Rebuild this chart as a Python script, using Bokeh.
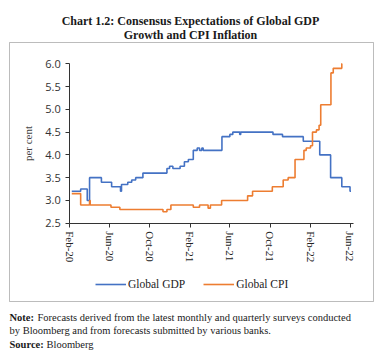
import pandas as pd
from bokeh.plotting import figure
from bokeh.models import (Range1d, FixedTicker, DatetimeTickFormatter, Label,
                          BoxAnnotation, Legend, LegendItem, PrintfTickFormatter)
from bokeh.embed import file_html
from bokeh.resources import INLINE

# ---------------- data ----------------
gdp_dates = ["2020-02-07", "2020-03-05", "2020-03-25", "2020-04-01", "2020-05-07",
             "2020-06-07", "2020-07-04", "2020-07-07", "2020-07-26", "2020-08-07",
             "2020-08-19", "2020-09-10", "2020-11-22", "2020-11-30", "2020-12-10",
             "2021-01-01", "2021-01-14", "2021-01-26", "2021-02-10", "2021-02-22",
             "2021-03-01", "2021-03-08", "2021-03-12", "2021-05-08", "2021-06-01",
             "2021-06-10", "2021-07-01", "2021-07-04", "2021-10-10", "2021-11-08",
             "2022-01-10", "2022-03-01", "2022-04-03", "2022-05-07", "2022-06-01",
             "2022-06-04"]
gdp_values = [3.2, 3.25, 3.0, 3.5, 3.4,
              3.3, 3.2, 3.35, 3.4, 3.45,
              3.5, 3.6, 3.7, 3.75, 3.7,
              3.75, 3.85, 3.9, 4.1, 4.15,
              4.1, 4.15, 4.1, 4.4, 4.45,
              4.5, 4.45, 4.5, 4.45, 4.4,
              4.3, 4.0, 3.5, 3.3, 3.2,
              3.2]

cpi_dates = ["2020-02-07", "2020-03-05", "2020-04-01", "2020-04-03", "2020-06-05",
             "2020-07-02", "2020-11-10", "2020-11-22", "2020-12-04", "2021-02-10",
             "2021-03-01", "2021-03-27", "2021-04-03", "2021-05-07", "2021-07-25",
             "2021-08-09", "2021-10-08", "2021-11-10", "2021-11-25", "2021-12-16",
             "2022-01-12", "2022-01-19", "2022-02-01", "2022-02-07", "2022-02-19",
             "2022-02-27", "2022-03-04", "2022-04-04", "2022-04-11", "2022-05-07",
             "2022-05-08"]
cpi_values = [3.15, 2.9, 3.0, 2.9, 2.85,
              2.8, 2.75, 2.8, 2.9, 2.85,
              2.9, 2.83, 2.9, 3.0, 3.1,
              3.2, 3.3, 3.45, 3.5, 3.9,
              4.1, 4.15, 4.2, 4.5, 4.55,
              4.65, 5.1, 5.8, 5.9, 6.0,
              6.0]

tick_dates = ["2020-02-01", "2020-06-01", "2020-10-01", "2021-02-01",
              "2021-06-01", "2021-10-01", "2022-02-01", "2022-06-01"]
x_start, x_end = "2020-02-01", "2022-06-10"
y_ticks = [2.5, 3.0, 3.5, 4.0, 4.5, 5.0, 5.5, 6.0]
y_min, y_max = 2.5, 6.0

series_names = ["Global GDP", "Global CPI"]
series_colors = ["#4472C4", "#ED7D31"]

title_lines = ["Chart 1.2: Consensus Expectations of Global GDP",
               "Growth and CPI Inflation"]
note_label = "Note:"
note_lines = ["Forecasts derived from the latest monthly and quarterly surveys conducted",
              "by Bloomberg and from forecasts submitted by various banks."]
source_label = "Source:"
source_text = "Bloomberg"

# ---------------- layout (canvas px) ----------------
W, H = 378, 353
PL, PR, PT, PB = 69.3, 352.5, 63.3, 222.7   # plotting area in canvas px


def ms(s):
    return pd.Timestamp(s).value / 10**6


# data span -> pixel span of plotting area; extend ranges to the whole canvas
t0, t1 = ms(x_start), ms(x_end)
kx = (t1 - t0) / (PR - PL)
ky = (y_max - y_min) / (PB - PT)
xr = Range1d(t0 - PL * kx, t1 + (W - PR) * kx)
yr = Range1d(y_min - (H - PB) * ky, y_max + PT * ky)

p = figure(width=W, height=H, x_axis_type="datetime",
           output_backend="svg", toolbar_location=None,
           x_range=xr, y_range=yr,
           min_border=0, min_border_left=0, min_border_right=0,
           min_border_top=0, min_border_bottom=0)
p.outline_line_color = None
p.xgrid.visible = False
p.ygrid.visible = False
p.background_fill_color = "white"
p.border_fill_color = "white"


def X(cx):
    return cx


def Y(cy):
    return H - cy


# border box around chart
p.add_layout(BoxAnnotation(left=X(9), right=X(373), top=Y(42), bottom=Y(301),
                           left_units="screen", right_units="screen",
                           top_units="screen", bottom_units="screen",
                           fill_alpha=0, line_color="#222222", line_width=1))

r1 = p.step(pd.to_datetime(gdp_dates), gdp_values, mode="after",
            line_color=series_colors[0], line_width=1.6)
r2 = p.step(pd.to_datetime(cpi_dates), cpi_values, mode="after",
            line_color=series_colors[1], line_width=1.6)

# axes, pinned at the plotting-area edges
xa = p.xaxis[0]
xa.fixed_location = y_min
xa.bounds = (t0, t1)
xa.ticker = FixedTicker(ticks=[ms(t) for t in tick_dates])
fmt = "%b-%y"
xa.formatter = DatetimeTickFormatter(milliseconds=fmt, seconds=fmt, minsec=fmt,
                                     minutes=fmt, hourmin=fmt, hours=fmt,
                                     days=fmt, months=fmt, years=fmt)
xa.major_label_orientation = "vertical"
xa.major_label_text_font = "Liberation Serif"
xa.major_label_text_font_size = "11px"
xa.major_label_text_color = "#222222"
xa.major_tick_in = 0
xa.major_tick_out = 4
xa.minor_tick_line_color = None
xa.axis_line_color = "#333333"
xa.major_tick_line_color = "#333333"
xa.major_label_standoff = 4

ya = p.yaxis[0]
ya.fixed_location = t0
ya.bounds = (y_min, y_max)
ya.ticker = FixedTicker(ticks=y_ticks)
ya.formatter = PrintfTickFormatter(format="%.1f")
ya.major_label_text_font = "Open Sans"
ya.major_label_text_font_size = "11px"
ya.major_label_text_color = "#333333"
ya.major_tick_in = 0
ya.major_tick_out = 4
ya.minor_tick_line_color = None
ya.axis_line_color = "#333333"
ya.major_tick_line_color = "#333333"
ya.axis_label = "per cent"
ya.axis_label_text_font = "Liberation Serif"
ya.axis_label_text_font_size = "11px"
ya.axis_label_text_font_style = "normal"
ya.axis_label_standoff = 8

# legend
legend = Legend(items=[LegendItem(label=series_names[0], renderers=[r1]),
                       LegendItem(label=series_names[1], renderers=[r2])],
                orientation="horizontal", location=(X(95), Y(290)),
                glyph_width=31, glyph_height=12, label_standoff=2, spacing=18,
                padding=0, margin=0, border_line_color=None,
                background_fill_alpha=0,
                label_text_font="Liberation Serif", label_text_font_size="11.5px",
                label_text_color="#222222")
p.add_layout(legend, "center")

# title
for i, t in enumerate(title_lines):
    p.add_layout(Label(x=X(190), y=Y(20 + 14.5 * i), x_units="screen", y_units="screen",
                       text=t, text_align="center", text_baseline="alphabetic",
                       text_font="Liberation Serif", text_font_style="bold",
                       text_font_size="12px", text_color="#1a1a1a"))

# notes
note_font = dict(text_font="Liberation Serif", text_font_size="10.5px",
                 text_color="#1a1a1a", x_units="screen", y_units="screen",
                 text_baseline="alphabetic")
p.add_layout(Label(x=X(9), y=Y(317), text=note_label, text_font_style="bold", **note_font))
p.add_layout(Label(x=X(37), y=Y(317), text=note_lines[0], **note_font))
p.add_layout(Label(x=X(9), y=Y(330), text=note_lines[1], **note_font))
p.add_layout(Label(x=X(9), y=Y(344), text=source_label, text_font_style="bold", **note_font))
p.add_layout(Label(x=X(46), y=Y(344), text=source_text, **note_font))

open("out.html", "w").write(file_html(p, INLINE))
